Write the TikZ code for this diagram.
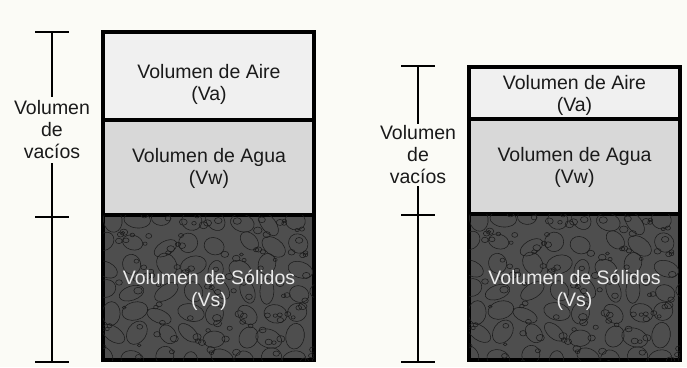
\documentclass[tikz,border=0pt]{standalone}
\usepackage{fontspec}
\setmainfont{Liberation Sans}
\usetikzlibrary{calc}

\definecolor{paper}{HTML}{FBFBF6}
\definecolor{air}{HTML}{F0F0F0}
\definecolor{water}{HTML}{D8D8D8}
\definecolor{solid}{HTML}{4E4E4E}
\definecolor{grit}{HTML}{1C1C1C}
\definecolor{ink}{HTML}{1A1A1A}

\newcommand{\soilfont}{\fontsize{19.5}{22}\selectfont}

% pebble texture inside a solids layer node
\newcommand{\pebbles}[1]{
	\begin{scope}
		\clip ($(#1.north west)+(1.6,1.6)$) rectangle ($(#1.south east)+(-1.6,-1.6)$);
		\begin{scope}[shift = {(#1.north west)}, line width = 0.55pt, grit]
			\pgfmathsetseed{17}
			\foreach \c in {0,...,8}
			{
				\foreach \r in {0,...,6}
				{
					\pgfmathsetmacro{\px}{\c*27 + 8 + 10*(rnd-0.5)}
					\pgfmathsetmacro{\py}{\r*23 + 8 + 8*(rnd-0.5)}
					\pgfmathsetmacro{\ra}{9.5 + 4*rnd}
					\pgfmathsetmacro{\rb}{6.5 + 3*rnd}
					\pgfmathsetmacro{\ang}{180*rnd}
					\draw[rotate around = {\ang:(\px,\py)}] (\px,\py) ellipse (\ra pt and \rb pt);
				}
			}
			\foreach \i in {1,...,120}
			{
				\pgfmathsetmacro{\px}{215*rnd}
				\pgfmathsetmacro{\py}{150*rnd}
				\pgfmathsetmacro{\ra}{1.8 + 2.6*rnd}
				\draw (\px,\py) ellipse (\ra pt and 0.8*\ra pt);
			}
		\end{scope}
	\end{scope}
}

\tikzset{
	layer/.style = {draw = black, line width = 3.2pt, minimum width = 211, inner sep = 0pt},
	soiltext/.style = {align = center, font = \soilfont, text = ink, inner sep = 0pt},
	bar/.style = {line width = 2.8pt, draw = black},
	sidelabel/.style = {align = center, font = \soilfont, text = ink, inner xsep = 0pt, inner ysep = 4pt}
}

\begin{document}
\begin{tikzpicture}[x = 1pt, y = -1pt]
	\fill[paper] (0,0) rectangle (687,367);
	\useasboundingbox (0,0) rectangle (687,367);

	% left column
	\begin{scope}
		\node[layer, fill = air, minimum height = 88] (aireL) at (208.5,76) {};
		\node[layer, fill = water, minimum height = 95] (aguaL) at (208.5,167.5) {};
		\node[layer, fill = solid, minimum height = 145] (solidL) at (208.5,287.5) {};
		\pebbles{solidL}

		\node[soiltext] (aireLtxt) at (209,84) {Volumen de Aire\\(Va)};
		\node[soiltext] (aguaLtxt) at (209,168) {Volumen de Agua\\(Vw)};
		\node[soiltext, text = white!92!black] (solidLtxt) at (209,290.5) {Volumen de Sólidos\\(Vs)};

		\coordinate (topL) at (52,32);
		\coordinate (midL) at (52,217);
		\coordinate (botL) at (52,362);
		\node[sidelabel] (vacL) at (52,130) {Volumen\\de\\vacíos};

		\draw[bar] (topL) -- (vacL.north);
		\draw[bar] (vacL.south) -- (midL) -- (botL);
		\foreach \t in {topL, midL, botL}
		{
			\draw[bar] (\t) ++(-17,0) -- ++(34,0);
		}
	\end{scope}

	% right column
	\begin{scope}
		\node[layer, fill = air, minimum height = 52] (aireR) at (574.5,93) {};
		\node[layer, fill = water, minimum height = 95] (aguaR) at (574.5,166.5) {};
		\node[layer, fill = solid, minimum height = 146] (solidR) at (574.5,287) {};
		\pebbles{solidR}

		\node[soiltext] (aireRtxt) at (574.5,95) {Volumen de Aire\\(Va)};
		\node[soiltext] (aguaRtxt) at (574.5,167.5) {Volumen de Agua\\(Vw)};
		\node[soiltext, text = white!92!black] (solidRtxt) at (574.5,290.5) {Volumen de Sólidos\\(Vs)};

		\coordinate (topR) at (418,66);
		\coordinate (midR) at (418,215);
		\coordinate (botR) at (418,362);
		\node[sidelabel, inner ysep = 2pt] (vacR) at (418,155) {Volumen\\de\\vacíos};

		\draw[bar] (topR) -- (vacR.north);
		\draw[bar] (vacR.south) -- (midR) -- (botR);
		\foreach \t in {topR, midR, botR}
		{
			\draw[bar] (\t) ++(-17,0) -- ++(34,0);
		}
	\end{scope}
\end{tikzpicture}
\end{document}
